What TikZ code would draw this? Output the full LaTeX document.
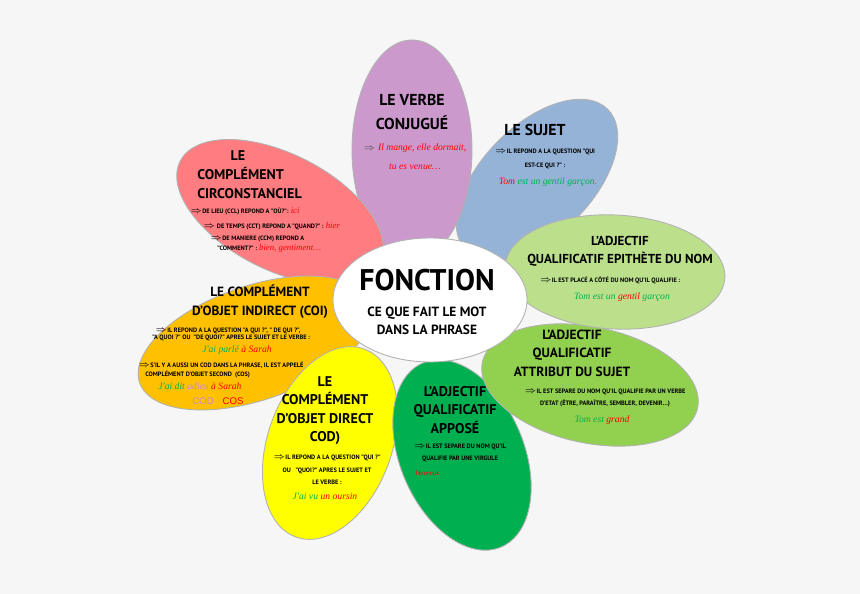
\documentclass[tikz,border=0pt]{standalone}
\usepackage{fontspec}
\setmainfont{PT Sans}
\newfontfamily\cursive{Liberation Serif}
\newfontfamily\arial{Liberation Sans}
\usepackage{xcolor}
\usepackage{tikz}
\usetikzlibrary{positioning}
\definecolor{fond}{HTML}{F6F6F6}
\definecolor{violet}{HTML}{CC99CC}
\definecolor{bleu}{HTML}{95B3D7}
\definecolor{vertclair}{HTML}{BCDF8C}
\definecolor{vertmoyen}{HTML}{92D050}
\definecolor{vertfonce}{HTML}{00B050}
\definecolor{jaune}{HTML}{FFFF00}
\definecolor{orangec}{HTML}{FFC000}
\definecolor{saumon}{HTML}{FF7C80}
\definecolor{rouge}{HTML}{FF0000}
\definecolor{vert}{HTML}{00B050}
\definecolor{mauve}{HTML}{C88CC8}
\tikzstyle{petale} = [draw=gray!60, line width=0.5pt]
\tikzstyle{titre} = [align=center, inner sep=0pt, font=\bfseries\fontsize{8}{10.4}\selectfont]
\tikzstyle{corps} = [align=center, inner sep=0pt, font=\bfseries\fontsize{3.6}{7}\selectfont]
\tikzstyle{ligne} = [anchor=west, inner sep=0pt, font=\bfseries\fontsize{3.6}{4.5}\selectfont]
\tikzstyle{ecrit} = [inner sep=0pt, font=\cursive\itshape\fontsize{5.5}{10}\selectfont]
\newcommand{\fl}{$\Rightarrow$}

\begin{document}
\begin{tikzpicture}[x=0.02cm, y=-0.02cm]
    \fill[fond] (0,0) rectangle (860,594);
    \useasboundingbox (0,0) rectangle (860,594);
    % les petales
    \draw[petale, fill=bleu, rotate around={45:(537,180)}] (537,180) ellipse (100 and 55);
    \draw[petale, fill=violet] (412,150) ellipse (60 and 110);
    \draw[petale, fill=saumon, rotate around={-27:(280,212)}] (280,212) ellipse (112 and 58);
    \draw[petale, fill=orangec, rotate around={19:(255,343)}] (255,343) ellipse (122 and 57);
    \draw[petale, fill=jaune, rotate around={70:(330,443)}] (330,443) ellipse (100 and 62);
    \draw[petale, fill=vertfonce, rotate around={-67:(462,455)}] (462,455) ellipse (100 and 62);
    \draw[petale, fill=vertmoyen, rotate around={-12:(590,385)}] (590,385) ellipse (110 and 58);
    \draw[petale, fill=vertclair, rotate around={-3:(615,272)}] (615,272) ellipse (110 and 57);
    \draw[petale, fill=white] (430,300) ellipse (97 and 62);

    % centre
    \node[inner sep=0pt, font=\bfseries\fontsize{17}{20}\selectfont] (fonction) at (427,280) {FONCTION};
    \node[titre, font=\bfseries\fontsize{7.6}{10.2}\selectfont] (ceque) at (427,321) {CE QUE FAIT LE MOT\\DANS LA PHRASE};

    % le verbe
    \node[titre, font=\bfseries\fontsize{9}{14}\selectfont] (verbe) at (412,112) {LE VERBE\\CONJUGUÉ};
    \node[ecrit, align=center, font=\cursive\itshape\fontsize{5.5}{10.8}\selectfont] (verbeex) at (415,157)
        {\textcolor{gray!60!black}{\fl} \textcolor{rouge}{Il mange, elle dormait,}\\\textcolor{rouge}{tu es venue…}};

    % le sujet
    \node[titre, font=\bfseries\fontsize{9}{12}\selectfont] (sujet) at (535,130) {LE SUJET};
    \node[corps, font=\bfseries\fontsize{3.6}{8}\selectfont] (sujetq) at (545,159) {\fl IL REPOND A LA QUESTION "QUI\\EST-CE QUI ?" :};
    \node[ecrit] (sujetex) at (548,182) {\textcolor{rouge}{Tom} \textcolor{vert}{est un gentil garçon.}};

    % complement circonstanciel
    \node[titre] (cc) at (238,156) {LE};
    \node[titre, align=left, anchor=west] (cc2) at (197,183) {COMPLÉMENT\\CIRCONSTANCIEL};
    \node[ligne] (ccl) at (190,211) {\fl DE LIEU (CCL) REPOND A "OÙ?": {\cursive\itshape\mdseries\fontsize{5}{5}\selectfont\textcolor{rouge}{ici}}};
    \node[ligne] (cct) at (203,226) {\fl\ DE TEMPS (CCT) REPOND A "QUAND?" : {\cursive\itshape\mdseries\fontsize{5}{5}\selectfont\textcolor{rouge}{hier}}};
    \node[ligne] (ccm) at (210,239) {\fl DE MANIERE (CCM) REPOND A};
    \node[ligne] (ccm2) at (217,248) {"COMMENT?" : {\cursive\itshape\mdseries\fontsize{5}{5}\selectfont\textcolor{rouge}{bien, gentiment…}}};

    % complement d'objet indirect
    \node[titre, font=\bfseries\fontsize{7.6}{10.8}\selectfont] (coi) at (260,302) {LE COMPLÉMENT\\D'OBJET INDIRECT (COI)};
    \node[ligne] (coi1) at (155,331) {\fl IL REPOND A LA QUESTION "A QUI ?", " DE QUI ?",};
    \node[ligne] (coi2) at (152,338) {"A QUOI ?" OU \ "DE QUOI?" APRES LE SUJET ET LE VERBE :};
    \node[ecrit] (coiex) at (237,350) {\textcolor{vert}{J'ai parlé} \textcolor{rouge}{à Sarah}};
    \node[ligne] (cos1) at (138,365) {\fl S'IL Y A AUSSI UN COD DANS LA PHRASE, IL EST APPELÉ};
    \node[ligne] (cos2) at (145,374) {COMPLÉMENT D'OBJET SECOND \ (COS)};
    \node[ecrit] (cosex) at (200,386) {\textcolor{vert}{J'ai dit} \textcolor{mauve}{adieu} \textcolor{rouge}{à Sarah}};
    \node[inner sep=0pt, font=\arial\fontsize{5.5}{6}\selectfont, text=mauve] (codlbl) at (203,401) {COD};
    \node[inner sep=0pt, font=\arial\fontsize{5.5}{6}\selectfont, text=rouge] (coslbl) at (233,401) {COS};

    % complement d'objet direct
    \node[titre] (cod) at (325,410.5) {LE\\COMPLÉMENT\\D'OBJET DIRECT\\COD)};
    \node[corps] (codq) at (327,470) {\fl IL REPOND A LA QUESTION "QUI ?"\\OU \ \ "QUOI?" APRES LE SUJET ET\\LE VERBE :};
    \node[ecrit] (codex) at (325,496) {\textcolor{vert}{J'ai vu} \textcolor{rouge}{un oursin}};

    % adjectif appose
    \node[titre] (appose) at (455,410) {L'ADJECTIF\\QUALIFICATIF\\APPOSÉ};
    \node[corps, font=\bfseries\fontsize{3.6}{6.8}\selectfont] (apposeq) at (460,453) {\fl IL EST SEPARE DU NOM QU'IL\\QUALIFIE PAR UNE VIRGULE};
    \node[ecrit, anchor=west, font=\cursive\itshape\fontsize{4}{5}\selectfont] (apposeex) at (415,473) {\textcolor{rouge}{Heureux}};

    % adjectif epithete
    \node[titre, font=\bfseries\fontsize{7.4}{10.2}\selectfont] (epithete) at (620,251) {L'ADJECTIF\\QUALIFICATIF EPITHÈTE DU NOM};
    \node[corps] (epitheteq) at (610,280) {\fl IL EST PLACÉ A CÔTÉ DU NOM QU'IL QUALIFIE :};
    \node[ecrit] (epitheteex) at (622,297) {\textcolor{vert}{Tom est un} \textcolor{rouge}{gentil} \textcolor{vert}{garçon}};

    % adjectif attribut
    \node[titre, font=\bfseries\fontsize{7.6}{10.5}\selectfont] (attribut) at (572,353) {L'ADJECTIF\\QUALIFICATIF\\ATTRIBUT DU SUJET};
    \node[corps, font=\bfseries\fontsize{3.6}{6.8}\selectfont] (attributq) at (605,398) {\fl IL EST SEPARE DU NOM QU'IL QUALIFIE PAR UN VERBE\\D'ETAT (ÊTRE, PARAÎTRE, SEMBLER, DEVENIR…)};
    \node[ecrit] (attributex) at (602,420) {\textcolor{vert}{Tom est} \textcolor{rouge}{grand}};
\end{tikzpicture}
\end{document}
